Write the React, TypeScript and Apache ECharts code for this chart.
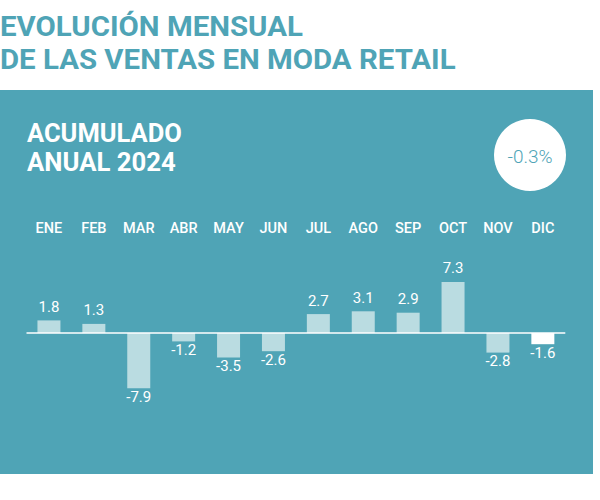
import React, { useEffect, useRef } from "react";
import * as echarts from "echarts";

const months = ["ENE", "FEB", "MAR", "ABR", "MAY", "JUN", "JUL", "AGO", "SEP", "OCT", "NOV", "DIC"];
const values = [1.8, 1.3, -7.9, -1.2, -3.5, -2.6, 2.7, 3.1, 2.9, 7.3, -2.8, -1.6];
const highlightMonth = "DIC";
const titleLines = ["EVOLUCIÓN MENSUAL", "DE LAS VENTAS EN MODA RETAIL"];
const subtitleLines = ["ACUMULADO", "ANUAL 2024"];
const totalLabel = "-0.3%";

const TEAL = "#4fa4b6";
const BAR = "#badce1";

export default function App() {
  const ref = useRef<HTMLDivElement>(null);
  useEffect(() => {
    if (!ref.current) return;
    const chart = echarts.init(ref.current, null, { renderer: "svg" });
    const data = values.map((v, i) => ({
      value: v,
      itemStyle: { color: months[i] === highlightMonth ? "#ffffff" : BAR },
      label: {
        position: v >= 0 ? "top" : "bottom",
        distance: v >= 0 ? 6 : 1,
      },
    }));
    chart.setOption({
      animation: false,
      backgroundColor: "#ffffff",
      graphic: [
        { type: "rect", z: 0, shape: { x: 0, y: 90, width: 593, height: 384 }, style: { fill: TEAL } },
        {
          type: "text", z: 1, x: 0, y: 27, scaleX: 1.09,
          style: { text: titleLines[0], fill: TEAL, font: "bold 27px Roboto", verticalAlign: "middle" },
        },
        {
          type: "text", z: 1, x: 0, y: 60, scaleX: 1.09,
          style: { text: titleLines[1], fill: TEAL, font: "bold 27px Roboto", verticalAlign: "middle" },
        },
        {
          type: "text", z: 1, x: 27, y: 134, scaleX: 1.02,
          style: { text: subtitleLines[0], fill: "#ffffff", font: "bold 25px Roboto", verticalAlign: "middle" },
        },
        {
          type: "text", z: 1, x: 27, y: 162.5, scaleX: 1.03,
          style: { text: subtitleLines[1], fill: "#ffffff", font: "bold 25px Roboto", verticalAlign: "middle" },
        },
        { type: "circle", z: 1, shape: { cx: 530, cy: 155, r: 36 }, style: { fill: "#ffffff" } },
        {
          type: "text", z: 2, x: 530, y: 156,
          style: { text: totalLabel, fill: TEAL, font: "300 19px Roboto", align: "center", verticalAlign: "middle" },
        },
      ],
      grid: { left: 26.5, width: 538.8, top: 263, height: 140 },
      xAxis: {
        type: "category",
        data: months,
        position: "top",
        axisLine: { show: false, onZero: false },
        axisTick: { show: false },
        axisLabel: { color: "#ffffff", fontFamily: "Roboto", fontWeight: 500, fontSize: 14.5, margin: 27 },
      },
      yAxis: {
        type: "value",
        min: -10,
        max: 10,
        show: false,
        splitLine: { show: false },
      },
      series: [
        {
          type: "bar",
          data,
          barWidth: 23,
          z: 3,
          label: {
            show: true,
            color: "#ffffff",
            fontFamily: "Roboto",
            fontSize: 15,
            formatter: (p: any) => Number(p.value).toFixed(1),
          },
          markLine: {
            silent: true,
            symbol: "none",
            label: { show: false },
            lineStyle: { color: "#ffffff", width: 1.5, type: "solid" },
            data: [{ yAxis: 0 }],
          },
        },
      ],
    });
    return () => chart.dispose();
  }, []);
  return <div ref={ref} style={{ position: "absolute", left: 0, top: 0, width: 600, height: 500 }} />;
}
